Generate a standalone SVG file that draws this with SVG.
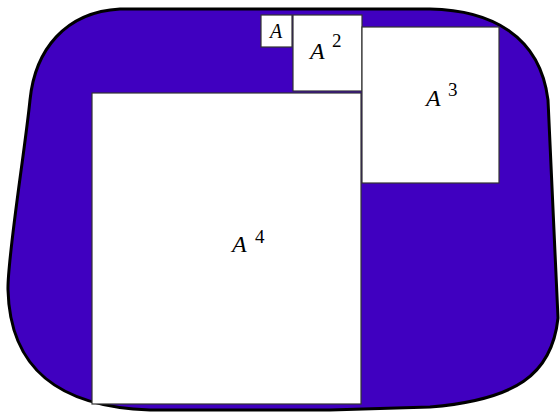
<svg xmlns="http://www.w3.org/2000/svg" width="560" height="412" viewBox="0 0 560 412">
<style>
.sq{fill:#fff;stroke:#333;stroke-width:1.2}
</style>
<rect width="560" height="412" fill="#fff"/>
<g id="blob">
<path d="M120,9 L430,9 C490,10 540,35 548,100 L558,318 C552,375 515,400 430,407 L330,410 L150,410 C60,407 10,370 8,290 C7,260 25,150 30,100 C35,50 65,12 120,9 Z" fill="#4000C0" stroke="#000" stroke-width="3"/>
</g>
<g font-family="'Liberation Serif', 'DejaVu Serif', serif" fill="#000">
<g id="a1">
<rect class="sq" x="261" y="15" width="31" height="32"/>
<text x="270" y="38" font-size="20" font-style="italic">A</text>
</g>
<g id="a2">
<rect class="sq" x="293" y="15" width="69" height="76"/>
<text x="310" y="59" font-size="24" font-style="italic">A</text>
<text x="332" y="47" font-size="19">2</text>
</g>
<g id="a3">
<rect class="sq" x="362" y="27" width="137" height="156"/>
<text x="426" y="106" font-size="24" font-style="italic">A</text>
<text x="448" y="96" font-size="19">3</text>
</g>
<g id="a4">
<rect class="sq" x="92" y="93" width="269" height="311"/>
<text x="232" y="252" font-size="24" font-style="italic">A</text>
<text x="255" y="243" font-size="19">4</text>
</g>
</g>
<g id="connectors"/>
</svg>
